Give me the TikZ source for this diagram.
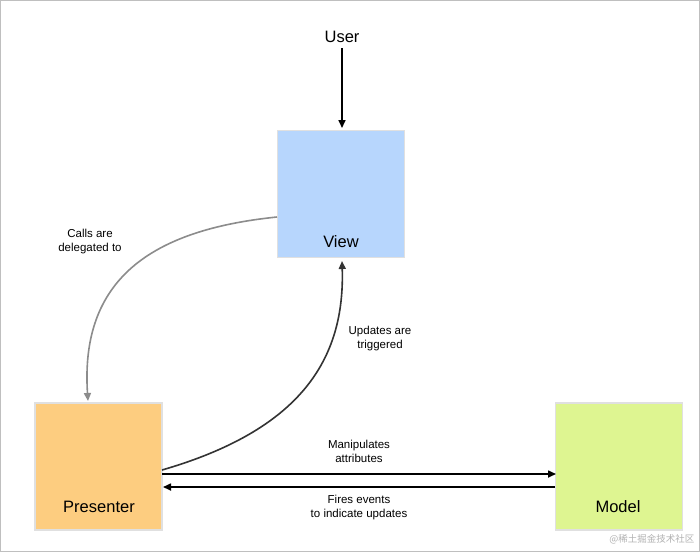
\documentclass[tikz,border=0pt]{standalone}
\usepackage{fontspec}
\setmainfont{Liberation Sans}
\newfontfamily\cjk{Noto Sans CJK SC}
\usetikzlibrary{arrows.meta}
\definecolor{vblue}{RGB}{183,214,253}
\definecolor{porange}{RGB}{253,205,128}
\definecolor{mgreen}{RGB}{222,245,145}
\begin{document}
\begin{tikzpicture}[x=1pt,y=-1pt,
  box/.style={draw=black!12,line width=1.2pt,minimum width=127pt,minimum height=127pt,inner sep=0pt},
  big/.style={font=\fontsize{16.5}{19}\selectfont},
  lbl/.style={font=\fontsize{11.5}{14}\selectfont,align=center},
  arr/.style={line width=1.6pt,-{Triangle[length=8pt,width=7pt]}}]
\draw[black!25,fill=white] (0.5,0.5) rectangle (699.5,551.5);
\useasboundingbox (0,0) rectangle (700,552);
\node[box,fill=vblue] (view) at (341,194) {};
\node[box,fill=porange] (pres) at (98.5,466.5) {};
\node[box,fill=mgreen] (model) at (619,466.5) {};
\node[big] at (341,242) {View};
\node[big] at (99,507) {Presenter};
\node[big] at (618,507) {Model};
\node[big] (user) at (342,37) {User};
\coordinate (vt) at (342,128);
\coordinate (vl) at (277,217);
\coordinate (vb) at (342,261);
\coordinate (pt) at (88,401);
\coordinate (pr1) at (162,470);
\coordinate (pr2) at (163,487);
\coordinate (ml1) at (556,474);
\coordinate (ml2) at (555,487);
\draw[arr] (user.south) ++(0,2) -- (vt);
\draw[arr,black!45] (vl) .. controls (150,230) and (80,280) .. (pt);
\draw[arr,black!80] (pr1) .. controls (300,430) and (345,360) .. (vb);
\draw[arr] (pr1 |- ml1) -- (ml1);
\draw[arr] (ml2) -- (pr2);
\node[lbl] at (90,242) {Calls are\\delegated to};
\node[lbl] at (380,339) {Updates are\\triggered};
\node[lbl] at (359,451) {Manipulates\\attributes};
\node[lbl] at (359,508) {Fires events\\to indicate updates};
\node[font=\cjk\fontsize{9.5}{11}\selectfont,text=black!30,anchor=east] at (698,539) {@稀土掘金技术社区};
\end{tikzpicture}
\end{document}
